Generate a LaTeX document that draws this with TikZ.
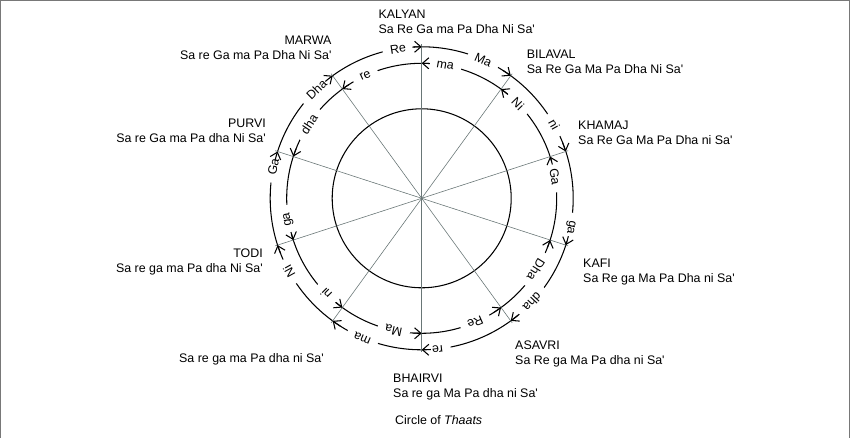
\documentclass[tikz,border=0pt]{standalone}
\usepackage{fontspec}
\setmainfont{Liberation Sans}[Ligatures=TeXOff]
\usepackage{xcolor}
\usetikzlibrary{arrows.meta}

\definecolor{framegray}{RGB}{120,120,120}
\definecolor{spokegray}{RGB}{105,118,118}

\begin{document}
\begin{tikzpicture}[
  x=0.3mm, y=0.3mm,
  thaat/.style={align=left, inner sep=0pt, font=\fontsize{10.6}{12.8}\selectfont},
  thaatr/.style={thaat, align=right},
  note/.style={fill=white, inner xsep=2.3mm, inner ysep=0.6mm,
               font=\fontsize{10.6}{12.8}\selectfont},
  ring/.style={line width=0.9pt},
  spoke/.style={draw=spokegray, line width=0.5pt},
  tip/.style={-{Straight Barb[length=1.9mm, width=3.3mm]}, line width=0.9pt},
]
  \useasboundingbox (-421.7,-239.7) rectangle (428.3,198.3);
  \draw[framegray, line width=2.5pt] (-421.7,-239.7) -- (-421.7,198.3)
    -- (428.3,198.3) -- (428.3,-239.7);

  \coordinate (c) at (0,0);
  \draw[ring] (c) circle[radius=89.5];
  \draw[ring] (c) circle[radius=135];
  \draw[ring] (c) circle[radius=151.5];

  % notes on the outer ring (clockwise) and the inner ring (anticlockwise)
  \foreach \a/\t [count=\k] in {99/Re, 66/Ma, 29/ni, -11/ga, -43/dha,
      -84/re, -113/ma, -151/Ni, 168/Ga, 134/Dha}
    \node[note, rotate=\a-90] (o\k) at (\a:151.5) {\t};
  \foreach \a/\t [count=\k] in {80/ma, 44.5/Ni, 9.3/Ga, -32/Dha, -66.6/Re,
      -102/Ma, -135/ni, -171/ga, 146.6/dha, 114.7/re}
    \node[note, rotate=\a-90] (i\k) at (\a:135) {\t};

  % spokes and arrow tips
  \foreach \a [count=\k] in {90,54,18,-18,-54,-90,-126,-162,162,126} {
    \coordinate (s\k) at (\a:154);
    \draw[spoke] (c) -- (s\k);
    \draw[tip] (\a+3.5:151.5) arc[start angle=\a+3.5, end angle=\a, radius=151.5];
    \draw[tip] (\a-3.5:135) arc[start angle=\a-3.5, end angle=\a, radius=135];
  }

  \node[thaat, anchor=north west] (kalyan) at (-43.4,188.3) {KALYAN\\Sa Re Ga ma Pa Dha Ni Sa'};
  \node[thaat, anchor=north west] (bilaval) at (105,148.3) {BILAVAL\\Sa Re Ga Ma Pa Dha Ni Sa'};
  \node[thaat, anchor=north west] (khamaj) at (156.3,77.3) {KHAMAJ\\Sa Re Ga Ma Pa Dha ni Sa'};
  \node[thaat, anchor=north west] (kafi) at (161.3,-60.7) {KAFI\\Sa Re ga Ma Pa Dha ni Sa'};
  \node[thaat, anchor=north west] (asavri) at (93.3,-142.7) {ASAVRI\\Sa Re ga Ma Pa dha ni Sa'};
  \node[thaat, anchor=north west] (bhairvi) at (-28.7,-175.7) {BHAIRVI\\Sa re ga Ma Pa dha ni Sa'};
  \node[thaatr, anchor=north east] (sw) at (-97.7,-155) {Sa re ga ma Pa dha ni Sa'};
  \node[thaatr, anchor=north east] (todi) at (-158.7,-50) {TODI\\Sa re ga ma Pa dha Ni Sa'};
  \node[thaatr, anchor=north east] (purvi) at (-155.7,80) {PURVI\\Sa re Ga ma Pa dha Ni Sa'};
  \node[thaatr, anchor=north east] (marwa) at (-90,162.3) {MARWA\\Sa re Ga ma Pa Dha Ni Sa'};

  \node[thaat, anchor=north west] (caption) at (-26.7,-216.7) {Circle of \textit{Thaats}};
\end{tikzpicture}
\end{document}
